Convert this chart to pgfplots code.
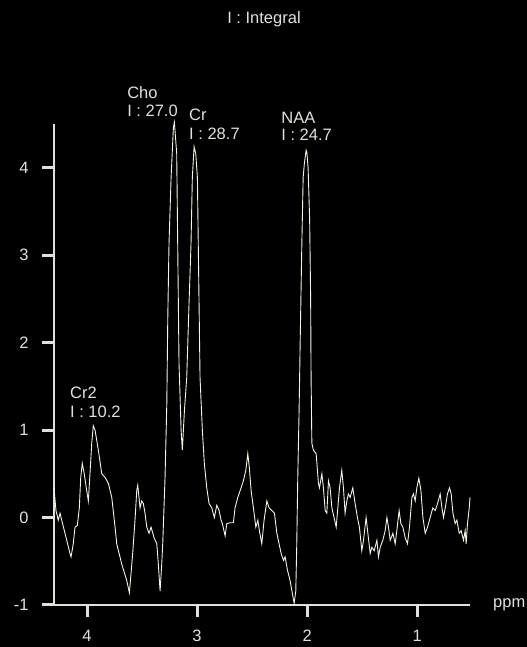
\documentclass[border=0pt]{standalone}
\usepackage{pgfplots}
\pgfplotsset{compat=1.18}
\usepackage{fontspec}
\setmainfont{Liberation Sans}

\definecolor{axcol}{RGB}{225,225,220}
\definecolor{tracecol}{RGB}{245,245,228}

\begin{document}
\begin{tikzpicture}[x=1bp,y=1bp,font=\fontsize{16.5bp}{19bp}\selectfont]
    \fill[black] (0,0) rectangle (527,647);
    \begin{axis}[
        at={(54bp,42bp)},
        anchor=south west,
        scale only axis,
        width=416bp,
        height=481bp,
        x dir=reverse,
        xmin=0.52, xmax=4.3,
        ymin=-1, ymax=4.5,
        axis x line=bottom,
        axis y line=left,
        axis line style={-, draw=axcol, line width=1.2bp},
        xtick pos=bottom, ytick pos=left,
        tick align=outside,
        major tick length=12bp,
        xtick style={draw=axcol, line width=3bp},
        ytick style={draw=axcol, line width=3bp},
        xtick={1,2,3,4},
        ytick={-1,0,1,2,3,4},
        /pgf/number format/assume math mode=true,
        tick label style={text=axcol, font=\fontsize{16.5bp}{19bp}\selectfont},
        yticklabel style={xshift=-10bp},
        xticklabel style={yshift=-9.5bp},
        clip=false,
    ]

        % spectrum trace (ppm, signal)
        \addplot[tracecol, line width=0.9bp] coordinates {
            (4.300,0.34) (4.282,0.08) (4.261,-0.03) (4.245,0.05) (4.230,-0.03)
            (4.200,-0.18) (4.155,-0.41) (4.145,-0.45) (4.125,-0.30) (4.109,-0.11)
            (4.088,-0.09) (4.070,0.11) (4.057,0.46) (4.043,0.62) (4.025,0.50)
            (4.003,0.31) (3.988,0.19) (3.973,0.50) (3.957,0.85) (3.943,1.05)
            (3.927,1.00) (3.897,0.77) (3.866,0.50) (3.836,0.46) (3.806,0.39)
            (3.775,0.23) (3.745,-0.11) (3.730,-0.30) (3.685,-0.53) (3.639,-0.72)
            (3.615,-0.86) (3.600,-0.64) (3.585,-0.41) (3.564,-0.03) (3.548,0.31)
            (3.539,0.37) (3.518,0.11) (3.503,0.19) (3.488,0.16) (3.473,0.05)
            (3.457,-0.11) (3.436,-0.18) (3.418,-0.11) (3.391,-0.23) (3.366,-0.30)
            (3.352,-0.53) (3.336,-0.84) (3.321,-0.53) (3.312,-0.30) (3.291,0.46)
            (3.275,1.30) (3.266,2.29) (3.255,3.13) (3.236,3.89) (3.215,4.46)
            (3.206,4.52) (3.185,4.16) (3.175,3.02) (3.164,1.76) (3.145,1.00)
            (3.134,0.77) (3.115,1.22) (3.094,1.60) (3.073,2.45) (3.055,3.13)
            (3.043,3.89) (3.027,4.24) (3.012,4.16) (2.997,3.89) (2.988,3.02)
            (2.973,1.60) (2.952,1.00) (2.934,0.62) (2.912,0.34) (2.891,0.16)
            (2.866,0.11) (2.843,0.00) (2.821,0.14) (2.800,0.08) (2.782,-0.03)
            (2.770,-0.07) (2.745,-0.21) (2.730,-0.07) (2.700,-0.06) (2.670,-0.06)
            (2.655,0.11) (2.630,0.23) (2.600,0.34) (2.579,0.42) (2.557,0.54)
            (2.539,0.73) (2.525,0.57) (2.509,0.31) (2.488,0.11) (2.466,-0.11)
            (2.448,-0.03) (2.434,-0.15) (2.412,-0.30) (2.391,-0.03) (2.366,0.19)
            (2.345,0.11) (2.321,0.08) (2.297,0.05) (2.275,-0.18) (2.255,-0.30)
            (2.236,-0.41) (2.215,-0.49) (2.200,-0.45) (2.179,-0.60) (2.155,-0.72)
            (2.134,-0.87) (2.118,-0.98) (2.103,-0.84) (2.094,-0.30) (2.085,0.46)
            (2.073,1.22) (2.061,2.17) (2.048,3.13) (2.036,3.89) (2.025,4.05)
            (2.009,4.20) (2.003,4.18) (1.991,4.00) (1.977,3.40) (1.968,2.50)
            (1.964,1.60) (1.957,0.85) (1.943,0.77) (1.918,0.73) (1.897,0.39)
            (1.888,0.34) (1.866,0.50) (1.852,0.34) (1.836,0.08) (1.821,0.05)
            (1.806,0.42) (1.791,0.34) (1.775,0.11) (1.755,0.00) (1.736,-0.11)
            (1.725,0.05) (1.706,0.34) (1.685,0.54) (1.670,0.34) (1.655,0.05)
            (1.639,0.19) (1.625,0.27) (1.609,0.23) (1.585,0.34) (1.564,0.16)
            (1.543,0.00) (1.525,-0.11) (1.503,-0.38) (1.488,-0.26) (1.464,0.00)
            (1.448,-0.18) (1.427,-0.41) (1.412,-0.34) (1.391,-0.38) (1.366,-0.26)
            (1.352,-0.45) (1.336,-0.34) (1.312,-0.26) (1.291,-0.15) (1.275,0.00)
            (1.261,-0.11) (1.245,-0.26) (1.221,-0.18) (1.200,-0.30) (1.185,-0.15)
            (1.164,0.08) (1.148,-0.07) (1.130,-0.11) (1.109,-0.23) (1.088,-0.30)
            (1.070,-0.11) (1.048,0.23) (1.034,0.27) (1.018,0.19) (1.003,0.34)
            (0.985,0.45) (0.966,0.31) (0.948,0.00) (0.927,-0.18) (0.906,-0.11)
            (0.882,0.00) (0.858,0.11) (0.836,0.08) (0.815,0.16) (0.791,0.27)
            (0.775,0.11) (0.761,0.00) (0.745,0.11) (0.725,0.27) (0.706,0.34)
            (0.691,0.27) (0.675,0.05) (0.655,-0.07) (0.639,-0.03) (0.618,-0.18)
            (0.600,-0.15) (0.579,-0.26) (0.564,-0.15) (0.555,-0.30) (0.543,-0.07)
            (0.527,0.11) (0.520,0.23)
        };

        % peak labels
        \node[anchor=west, inner sep=0, text=axcol] at (axis cs:3.636,4.855) {Cho};
        \node[anchor=west, inner sep=0, text=axcol] at (axis cs:3.636,4.645) {I : 27.0};
        \node[anchor=west, inner sep=0, text=axcol] at (axis cs:3.073,4.600) {Cr};
        \node[anchor=west, inner sep=0, text=axcol] at (axis cs:3.073,4.382) {I : 28.7};
        \node[anchor=west, inner sep=0, text=axcol] at (axis cs:2.236,4.565) {NAA};
        \node[anchor=west, inner sep=0, text=axcol] at (axis cs:2.236,4.382) {I : 24.7};
        \node[anchor=west, inner sep=0, text=axcol] at (axis cs:4.155,1.430) {Cr2};
        \node[anchor=west, inner sep=0, text=axcol] at (axis cs:4.155,1.213) {I : 10.2};

        \node[anchor=west, inner sep=0, text=axcol] at (rel axis cs:1,0) [xshift=23bp] {ppm};
    \end{axis}
    \node[text=axcol] at (264,628) {I : Integral};
\end{tikzpicture}
\end{document}
